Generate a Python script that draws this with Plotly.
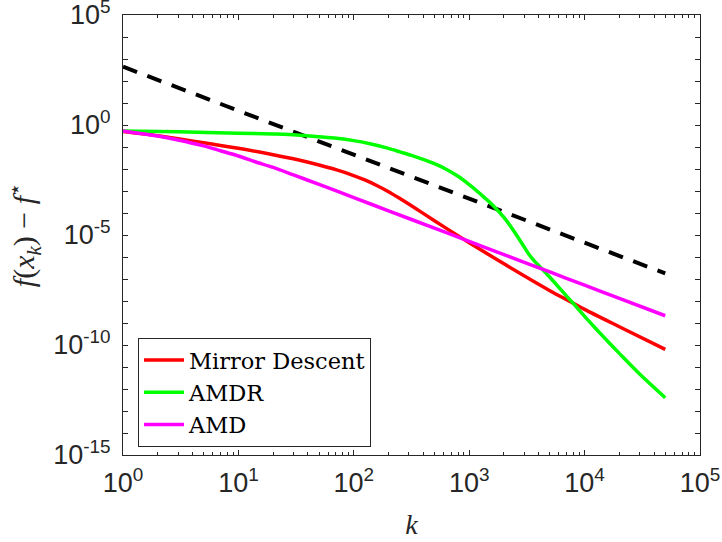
import plotly.graph_objects as go

# Mirror Descent: k and log10(f(x_k) - f*)
k_md = [1, 2, 3, 5, 10, 20, 32, 50, 71, 93, 126, 158, 200, 251, 316, 500, 676,
        1000, 2000, 5000, 8000, 10000, 20000, 50000]
md_log = [-0.30, -0.49, -0.62, -0.81, -1.06, -1.35, -1.57, -1.82, -2.04, -2.24,
          -2.51, -2.75, -3.03, -3.34, -3.67, -4.35, -4.79, -5.35, -6.31, -7.53,
          -8.10, -8.38, -9.17, -10.20]

# AMD
k_amd = [1, 2, 3, 5, 7, 10, 14, 20, 30, 50, 100, 200, 500, 1000, 2000, 5000,
         10000, 20000, 50000]
amd_log = [-0.27, -0.50, -0.68, -0.95, -1.17, -1.41, -1.67, -1.93, -2.27, -2.70,
           -3.30, -3.90, -4.69, -5.29, -5.89, -6.68, -7.28, -7.88, -8.67]

# AMDR
k_amdr = [1, 3, 10, 20, 32, 50, 71, 100, 141, 200, 251, 316, 398, 500, 631, 794,
          1000, 1259, 1585, 2000, 2512, 3000, 3311, 3631, 4074, 5000, 6310, 7943,
          10000, 12590, 15850, 20000, 30000, 50000]
amdr_log = [-0.27, -0.31, -0.37, -0.41, -0.45, -0.53, -0.60, -0.71, -0.86, -1.06,
            -1.22, -1.38, -1.56, -1.76, -2.01, -2.32, -2.71, -3.15, -3.62, -4.20,
            -4.92, -5.55, -5.90, -6.15, -6.43, -6.92, -7.52, -8.10, -8.70, -9.27,
            -9.83, -10.38, -11.32, -12.40]

ref_logC = 2.65  # dashed reference ~ C / k^2
ref_k = [1, 50000]

legend_names = ["Mirror Descent", "AMDR", "AMD"]
xtick_exp = [0, 1, 2, 3, 4, 5]
ytick_exp = list(range(-15, 6))

md = [10 ** v for v in md_log]
amd = [10 ** v for v in amd_log]
amdr = [10 ** v for v in amdr_log]
ref = [10 ** ref_logC / kk ** 2 for kk in ref_k]

fig = go.Figure()
fig.add_trace(go.Scatter(x=ref_k, y=ref, mode="lines", showlegend=False,
                         line=dict(color="black", width=4, dash="15px,11px")))
fig.add_trace(go.Scatter(x=k_md, y=md, mode="lines", name=legend_names[0],
                         line=dict(color="#FF0000", width=3.5, shape="spline", smoothing=0.8)))
fig.add_trace(go.Scatter(x=k_amdr, y=amdr, mode="lines", name=legend_names[1],
                         line=dict(color="#00FF00", width=3.5, shape="spline", smoothing=0.8)))
fig.add_trace(go.Scatter(x=k_amd, y=amd, mode="lines", name=legend_names[2],
                         line=dict(color="#FF00FF", width=3.5, shape="spline", smoothing=0.8)))

axcol = "#262626"
serif = "Liberation Serif, Times New Roman, serif"
minor_x = [m * 10 ** e for e in range(0, 5) for m in range(2, 10)]

fig.update_layout(
    width=722, height=542,
    margin=dict(l=123, r=22, t=15, b=87),
    paper_bgcolor="white", plot_bgcolor="white",
    font=dict(family="Liberation Sans, Arial, sans-serif", color=axcol, size=27),
    legend=dict(x=0.026, y=0.266, xanchor="left", yanchor="top",
                bgcolor="white", bordercolor=axcol, borderwidth=1,
                font=dict(family="DejaVu Serif, serif", size=22.5, color="black"),
                itemwidth=40),
    showlegend=True,
)
fig.update_xaxes(
    type="log", range=[-0.0001, 5.0001], showgrid=False, zeroline=False, automargin=False,
    showline=True, linecolor=axcol, linewidth=1, mirror="allticks",
    ticks="inside", ticklen=5, tickcolor=axcol, ticklabelstandoff=4,
    ticklabeloverflow="allow",
    tickvals=[10 ** e for e in xtick_exp],
    ticktext=["10<sup>%d</sup>" % e for e in xtick_exp],
    minor=dict(tickvals=minor_x, ticks="inside", ticklen=3, tickcolor=axcol, showgrid=False),
    title=dict(text="<i>k</i>", font=dict(family=serif, size=28, color=axcol), standoff=16),
)
fig.update_yaxes(
    type="log", range=[-15.0001, 5.0001], showgrid=False, zeroline=False, automargin=False,
    showline=True, linecolor=axcol, linewidth=1, mirror="allticks",
    ticks="inside", ticklen=5, tickcolor=axcol, ticklabelstandoff=6,
    ticklabeloverflow="allow",
    tickvals=[10 ** e for e in ytick_exp],
    ticktext=[("10<sup>%d</sup>" % e) if e % 5 == 0 else "" for e in ytick_exp],
    title=dict(text="<i>f</i>(<i>x<sub>k</sub></i>) − <i>f</i><sup>⋆</sup>",
               font=dict(family=serif, size=30, color=axcol), standoff=9),
)

fig.write_html("out.html", config={"displayModeBar": False},
               post_script="document.body.style.margin='0';document.body.style.overflow='hidden';")
